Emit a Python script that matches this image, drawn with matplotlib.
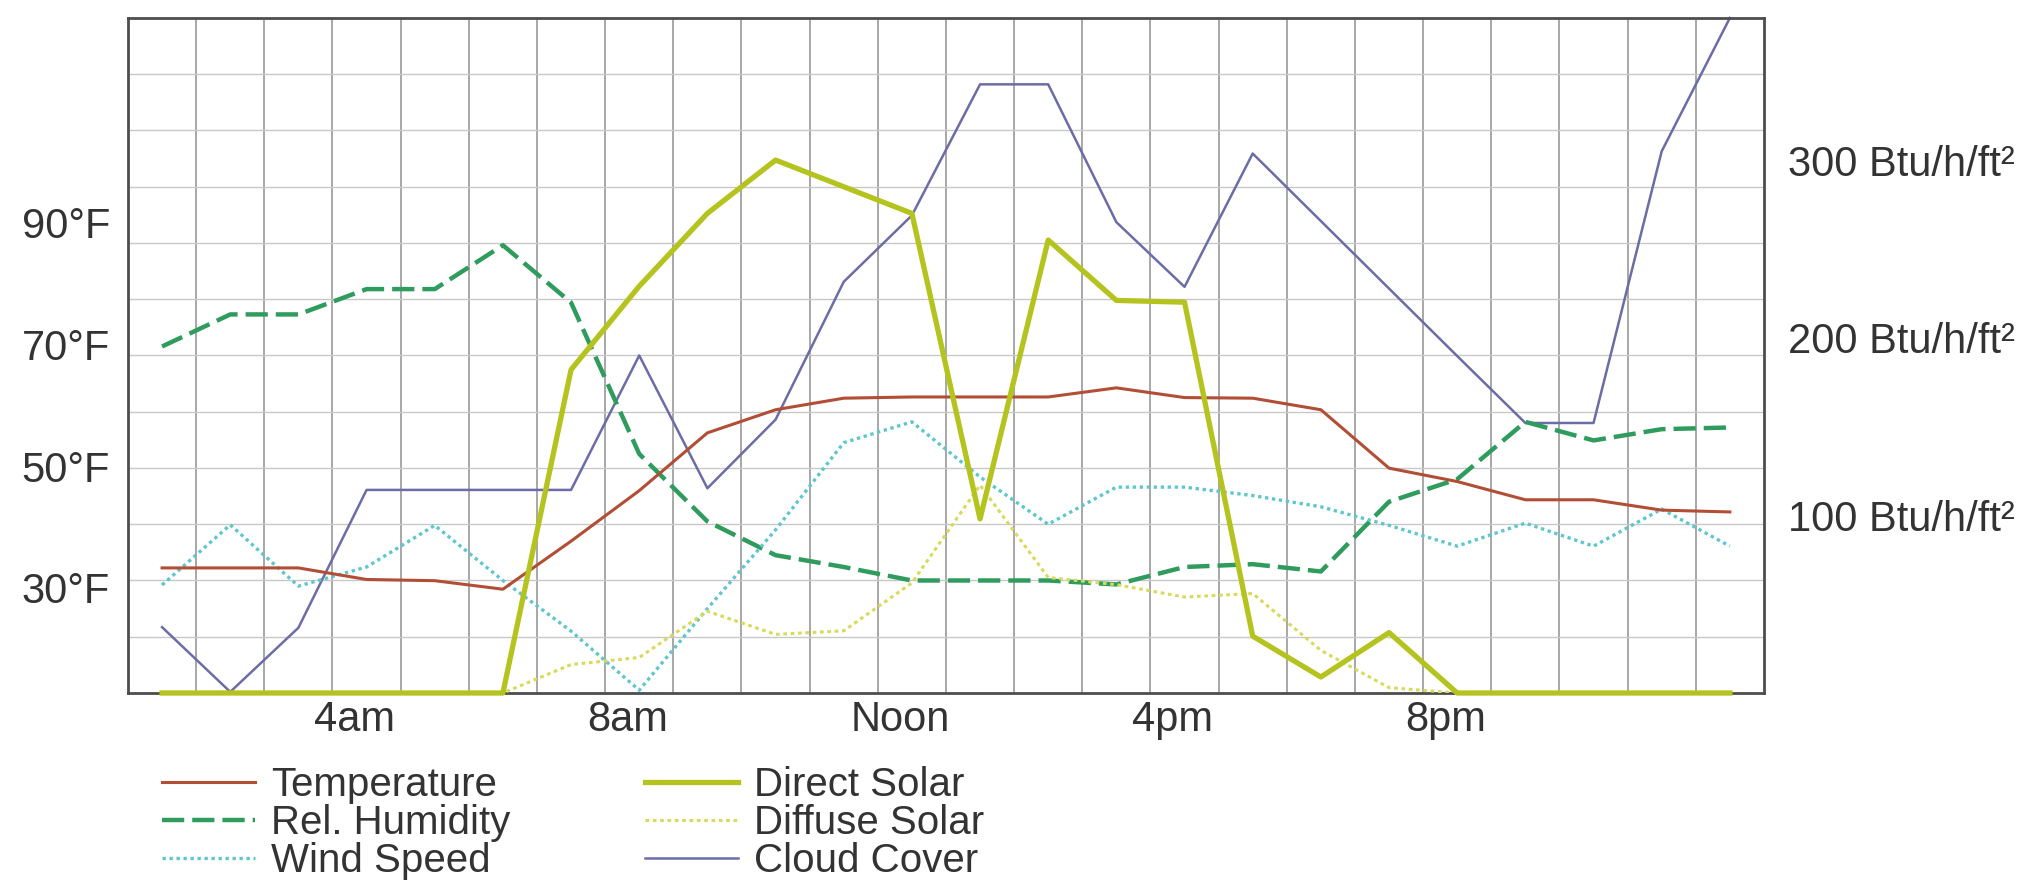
import numpy as np
import matplotlib
matplotlib.use('Agg')
import matplotlib.pyplot as plt
import matplotlib.transforms as mtransforms

plt.rcParams['font.family'] = ['Liberation Sans', 'DejaVu Sans']

# ── Data (hourly, 1am .. midnight) ───────────────────────────────────────
hours = list(range(1, 25))
temperature_f = [33.3, 33.3, 33.3, 31.4, 31.2, 29.8, 37.7, 46.0, 55.5, 59.3, 61.2, 61.4,
                 61.4, 61.4, 62.9, 61.3, 61.2, 59.3, 49.7, 47.5, 44.5, 44.5, 42.8, 42.5]
rel_humidity = [61.6, 67.3, 67.3, 71.8, 71.8, 79.6, 69.4, 42.5, 30.5, 24.5, 22.4, 20.0,
                20.0, 20.0, 19.3, 22.4, 22.9, 21.6, 34.0, 38.0, 48.2, 44.9, 46.9, 47.2]
wind_speed = [19.2, 29.9, 19.0, 22.4, 29.8, 20.0, 11.0, 0.5, 15.0, 29.0, 44.5, 48.2,
              38.4, 30.0, 36.6, 36.6, 35.1, 33.1, 29.8, 26.1, 30.2, 26.1, 32.7, 26.1]
cloud_cover = [11.7, 0.2, 11.6, 36.1, 36.1, 36.1, 36.1, 60.0, 36.4, 48.6, 73.1, 84.9,
               108.2, 108.2, 83.7, 72.2, 95.9, 83.9, 71.9, 59.9, 48.0, 48.0, 96.3, 120.0]
direct_solar = [0, 0, 0, 0, 0, 0, 182, 229, 270, 300, 285, 270,
                98, 255, 221, 220, 32, 9, 34, 0, 0, 0, 0, 0]
diffuse_solar = [0, 0, 0, 0, 0, 0, 16, 20, 46, 33, 35, 62,
                 117, 65, 61, 54, 56, 24, 3, 0, 0, 0, 0, 0]

tick_hours = [4, 8, 12, 16, 20]
tick_names = ['4am', '8am', 'Noon', '4pm', '8pm']
temp_ticks = [30, 50, 70, 90]
temp_labels = ['30°F', '50°F', '70°F', '90°F']
solar_ticks = [100, 200, 300]
solar_labels = ['100 Btu/h/ft²', '200 Btu/h/ft²', '300 Btu/h/ft²']

TXT = '#333333'

# ── Figure ────────────────────────────────────────────────────────────────
fig = plt.figure(figsize=(20.35, 8.81), dpi=100)
ax = fig.add_axes([0.0629, 0.2134, 0.8039, 0.7662])

# base axis: grid + percentage-like series
ax.set_xlim(0.5, 24.5)
ax.set_ylim(0, 120)
ax.set_xticks(tick_hours)
ax.set_xticklabels(tick_names)
ax.set_xticks(np.arange(1.5, 24, 1), minor=True)
ax.set_yticks(np.arange(10, 120, 10))
ax.tick_params(axis='y', labelleft=False, length=0)
ax.tick_params(axis='x', which='both', length=0, labelsize=30, pad=5, labelcolor=TXT)
ax.grid(which='minor', axis='x', color='#8f8f8f', linewidth=1.1)
ax.grid(which='major', axis='y', color='#c8c8c8', linewidth=1.0)
for s in ax.spines.values():
    s.set_color('#4d4d4d')
    s.set_linewidth(2.0)

offset = mtransforms.ScaledTranslation(-0.12, 0, fig.dpi_scale_trans)
for lbl in ax.get_xticklabels():
    lbl.set_transform(lbl.get_transform() + offset)

# temperature axis (left labels)
axT = ax.twinx()
axT.set_ylim(12.74, 123.7)
axT.yaxis.set_ticks_position('left')
axT.set_yticks(temp_ticks)
axT.set_yticklabels(temp_labels)
axT.tick_params(axis='y', length=0, pad=13, labelsize=30, labelcolor=TXT)

# solar axis (right labels)
axS = ax.twinx()
axS.set_ylim(0, 380)
axS.set_yticks(solar_ticks)
axS.set_yticklabels(solar_labels)
axS.tick_params(axis='y', length=0, pad=17, labelsize=30, labelcolor=TXT)

for a in (axT, axS):
    for s in a.spines.values():
        s.set_visible(False)

# ── Series ───────────────────────────────────────────────────────────────
l_cloud, = ax.plot(hours, cloud_cover, color='#6c6ca6', linewidth=1.8,
                   label='Cloud Cover', clip_on=False)
l_hum, = ax.plot(hours, rel_humidity, color='#2f9c5e', linewidth=3.2,
                 dashes=(5, 1.8), label='Rel. Humidity')
l_wind, = ax.plot(hours, wind_speed, color='#5ec6cf', linewidth=2.4,
                  dashes=(1, 1.1), label='Wind Speed')
l_temp, = axT.plot(hours, temperature_f, color='#b24d36', linewidth=2.2,
                   label='Temperature')
l_diff, = axS.plot(hours, diffuse_solar, color='#d9d95a', linewidth=2.2,
                   dashes=(1.2, 1.2), label='Diffuse Solar')
l_dir, = axS.plot(hours, direct_solar, color='#b5c31f', linewidth=3.8,
                  label='Direct Solar', clip_on=False)

fig.legend(handles=[l_temp, l_hum, l_wind, l_dir, l_diff, l_cloud],
           ncol=2, loc='upper left', bbox_to_anchor=(162 / 2035, 1 - 766 / 881),
           frameon=False, fontsize=29, labelcolor=TXT,
           handlelength=2.3, handletextpad=0.4, columnspacing=3.35,
           labelspacing=0.0, borderpad=0, borderaxespad=0)

fig.savefig('out.png', dpi=100)
